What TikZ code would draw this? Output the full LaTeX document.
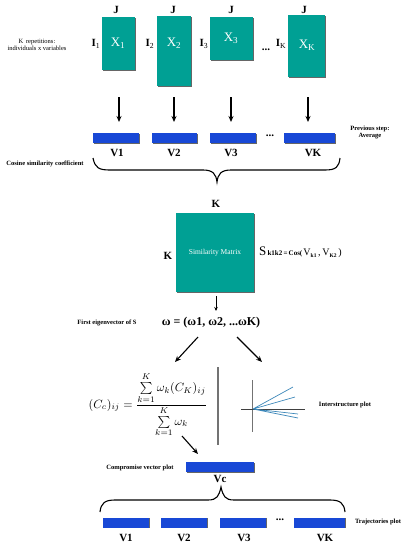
\documentclass[tikz,border=0pt]{standalone}
\usepackage{fontspec}
\setmainfont{Liberation Serif}
\usetikzlibrary{arrows.meta,shadows}
\definecolor{matfill}{RGB}{0,160,148}
\definecolor{barfill}{RGB}{24,72,214}
\definecolor{plotline}{RGB}{60,135,185}
\begin{document}
\begin{tikzpicture}[x=1pt,y=-1pt,
  mat/.style={fill=matfill,inner sep=0pt,drop shadow={shadow xshift=0.6pt,shadow yshift=-0.7pt,fill=black!60,opacity=1}},
  vbar/.style={fill=barfill,inner sep=0pt,minimum height=10pt,drop shadow={shadow xshift=0.5pt,shadow yshift=-0.6pt,fill=black!60,opacity=1}},
  dimlab/.style={font=\bfseries\fontsize{11}{11}\selectfont,inner sep=0pt},
  xlab/.style={text=white,font=\fontsize{13}{13}\selectfont,inner sep=0pt},
  vlab/.style={font=\bfseries\fontsize{11}{11}\selectfont,inner sep=0pt},
  small/.style={font=\bfseries\fontsize{6.5}{7}\selectfont,inner sep=0pt,align=center},
  arr/.style={-{Stealth[length=6pt,width=5pt]},line width=1.1pt},
  brc/.style={line width=1.1pt}]
\useasboundingbox (0,0) rectangle (410,550);

% top matrices
\node[mat,minimum width=33pt,minimum height=53pt] (x1) at (118.5,43.5) {};
\node[mat,minimum width=34pt,minimum height=70pt] (x2) at (174,51) {};
\node[mat,minimum width=43pt,minimum height=43pt] (x3) at (231.5,38.5) {};
\node[mat,minimum width=37pt,minimum height=62pt] (xk) at (306.5,46) {};
\node[xlab] (tx1) at (118,43) {X\textsubscript{1}};
\node[xlab] (tx2) at (174,43) {X\textsubscript{2}};
\node[xlab] (tx3) at (231,38) {X\textsubscript{3}};
\node[xlab] (txk) at (307,45) {X\textsubscript{K}};
\node[dimlab] (j1) at (116,10) {J};
\node[dimlab] (j2) at (173,10) {J};
\node[dimlab] (j3) at (231,10) {J};
\node[dimlab] (jk) at (304,10) {J};
\node[dimlab] (i1) at (96,44) {I\textsubscript{\mdseries 1}};
\node[dimlab] (i2) at (150,44) {I\textsubscript{\mdseries 2}};
\node[dimlab] (i3) at (204,44) {I\textsubscript{\mdseries 3}};
\node[dimlab] (ik) at (281,44) {I\textsubscript{\mdseries K}};
\node[dimlab] (dots1) at (266,50) {...};
\node[font=\fontsize{6.5}{7.5}\selectfont,inner sep=0pt,align=center] (krep) at (37,45) {K\, repetitions:\\individuals x variables};

% arrows to vectors
\coordinate (a1) at (119,97); \coordinate (b1) at (119,122);
\coordinate (a2) at (174,97); \coordinate (b2) at (174,122);
\coordinate (a3) at (231,97); \coordinate (b3) at (231,122);
\coordinate (ak) at (308,97); \coordinate (bk) at (308,122);
\draw[arr] (a1) -- (b1);
\draw[arr] (a2) -- (b2);
\draw[arr] (a3) -- (b3);
\draw[arr] (ak) -- (bk);

% vectors
\node[vbar,minimum width=46pt] (v1) at (116,138) {};
\node[vbar,minimum width=45pt] (v2) at (174.5,138) {};
\node[vbar,minimum width=46pt] (v3) at (233,138) {};
\node[vbar,minimum width=51pt] (vk) at (309.5,138) {};
\node[dimlab] (dots2) at (270,136) {...};
\node[vlab] (lv1) at (117,153) {V1};
\node[vlab] (lv2) at (174,153) {V2};
\node[vlab] (lv3) at (231,153) {V3};
\node[vlab] (lvk) at (313,153) {VK};
\node[small] (prev) at (370,132) {Previous step:\\Average};
\node[small] (cos) at (45,164) {Cosine similarity coefficient};

% top brace
\draw[brc] (93,158) .. controls (95,168) and (99,170) .. (110,170) -- (203,170)
  .. controls (213,170) and (216,174) .. (217,182)
  .. controls (218,174) and (221,170) .. (231,170) -- (325,170)
  .. controls (336,170) and (339,167) .. (340,158);

% similarity matrix
\node[mat,minimum width=78pt,minimum height=79pt,text=white,font=\fontsize{7.5}{8}\selectfont] (sm) at (215,252.5) {Similarity Matrix};
\node[dimlab] (ktop) at (216,204) {K};
\node[dimlab] (kleft) at (168,256) {K};
\node[anchor=west,inner sep=0pt] (sf) at (259,252) {{\fontsize{13}{13}\selectfont S}{\bfseries\fontsize{7}{7}\selectfont\,k1k2\,=\,Cos(\,}{\fontsize{10}{10}\selectfont V}{\fontsize{5.5}{6}\selectfont\raisebox{-2pt}{\bfseries k1}}\,,\,{\fontsize{10}{10}\selectfont V}{\fontsize{5.5}{6}\selectfont\raisebox{-2pt}{\bfseries K2}}\,)};
\coordinate (sa) at (216,296); \coordinate (sb) at (216,311);
\draw[-{Stealth[length=4pt,width=3.5pt]},line width=0.8pt] (sa) -- (sb);

% eigenvector
\node[small] (fe) at (107,323) {First eigenvector of S};
\node[font=\bfseries\fontsize{12}{12}\selectfont,inner sep=0pt] (om) at (211,323) {ω = (ω1, ω2, ...ωK)};
\coordinate (o1) at (198,337); \coordinate (o2) at (175,362);
\coordinate (o3) at (237,337); \coordinate (o4) at (262,362);
\draw[arr] (o1) -- (o2);
\draw[arr] (o3) -- (o4);

% formula
\node[inner sep=0pt] (form) at (148,405) {\scalebox{1.2}{$\displaystyle (C_c)_{ij}=\frac{\sum\limits_{k=1}^{K}\omega_k(C_K)_{ij}}{\sum\limits_{k=1}^{K}\omega_k}$}};

% divider
\coordinate (d1) at (218,367); \coordinate (d2) at (218,445);
\draw[black!55,line width=1.1pt] (d1) -- (d2);

% interstructure plot
\coordinate (p0) at (253,409);
\coordinate (pv1) at (252,380); \coordinate (pv2) at (252,432);
\coordinate (ph1) at (241,409); \coordinate (ph2) at (305,409);
\draw[black!55,line width=1pt] (pv1) -- (pv2);
\draw[black!75,line width=0.8pt] (ph1) -- (ph2);
\coordinate (e1) at (293,387); \coordinate (e2) at (295,397);
\coordinate (e3) at (298,414); \coordinate (e4) at (298,418);
\draw[plotline,line width=0.7pt] (p0) -- (e1) (p0) -- (e2) (p0) -- (e3) (p0) -- (e4);
\node[small] (isp) at (345,405) {Interstructure plot};

% compromise
\coordinate (c1) at (182,436); \coordinate (c2) at (198,454);
\draw[arr] (c1) -- (c2);
\node[vbar,minimum width=68pt] (vc) at (220,467) {};
\node[vlab] (lvc) at (220,479) {Vc};
\node[small] (cvp) at (140,468) {Compromise vector plot};

% bottom brace
\draw[brc] (100,512) .. controls (101,503) and (105,500) .. (115,500) -- (208,500)
  .. controls (217,500) and (219,496) .. (221,487)
  .. controls (223,496) and (225,500) .. (234,500) -- (330,500)
  .. controls (340,500) and (344,503) .. (345,512);

% bottom vectors
\node[vbar,minimum width=46pt] (w1) at (126,522.5) {};
\node[vbar,minimum width=46pt] (w2) at (184,522.5) {};
\node[vbar,minimum width=46pt] (w3) at (243,522.5) {};
\node[vbar,minimum width=51pt] (wk) at (319.5,522.5) {};
\node[dimlab] (dots3) at (280,520) {...};
\node[vlab] (lw1) at (126,538) {V1};
\node[vlab] (lw2) at (184,538) {V2};
\node[vlab] (lw3) at (244,538) {V3};
\node[vlab] (lwk) at (325,538) {VK};
\node[small] (tp) at (378,522) {Trajectories plot};
\end{tikzpicture}
\end{document}
